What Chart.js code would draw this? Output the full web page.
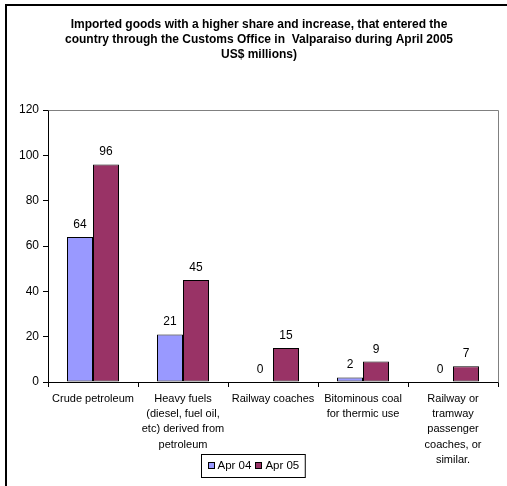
<!DOCTYPE html>
<html>
<head>
<meta charset="utf-8">
<script src="https://cdn.jsdelivr.net/npm/chart.js@4"></script>
<style>
  html, body { margin: 0; padding: 0; background: #fff; overflow: hidden; }
  #wrap { position: absolute; left: 0; top: 0; width: 507px; height: 486px; }
</style>
</head>
<body>
<div id="wrap"><canvas id="chart"></canvas></div>
<script>
// Imports through Valparaiso customs, US$ millions
const titleLines = [
  'Imported goods with a higher share and increase, that entered the',
  'country through the Customs Office in  Valparaiso during April 2005',
  'US$ millions)'
];
const categories = [
  'Crude petroleum',
  ['Heavy fuels', '(diesel, fuel oil,', 'etc) derived from', 'petroleum'],
  'Railway coaches',
  ['Bitominous coal', 'for thermic use'],
  ['Railway or', 'tramway', 'passenger', 'coaches, or', 'similar.']
];
const seriesNames = ['Apr 04', 'Apr 05'];
const apr04 = [64, 21, 0, 2, 0];
const apr05 = [96, 45, 15, 9, 7];
const yTicks = [0, 20, 40, 60, 80, 100, 120];

const FONT = "'Liberation Sans', Arial, sans-serif";
const COLORS = ['#9999FF', '#993366'];

const decorations = {
  id: 'decorations',
  afterLayout(chart) {
    // centre the title over the whole frame, which runs past the right edge
    chart.titleBlock.left = 0;
    chart.titleBlock.right = 518;
  },
  beforeDraw(chart) {
    const ctx = chart.ctx;
    ctx.save();
    ctx.fillStyle = '#fff';
    ctx.fillRect(0, 0, chart.width, chart.height);
    // outer chart frame (left and top edges)
    ctx.strokeStyle = '#000';
    ctx.lineWidth = 2;
    ctx.beginPath();
    ctx.moveTo(6, chart.height);
    ctx.lineTo(6, 5);
    ctx.lineTo(chart.width, 5);
    ctx.stroke();
    ctx.restore();
  },
  afterDatasetsDraw(chart) {
    const ctx = chart.ctx;
    const area = chart.chartArea;
    ctx.save();
    // plot area border, top and right
    ctx.strokeStyle = '#808080';
    ctx.lineWidth = 1;
    ctx.beginPath();
    ctx.moveTo(Math.round(area.left) + 0.5, Math.round(area.top) + 0.5);
    ctx.lineTo(Math.round(area.right) + 0.5, Math.round(area.top) + 0.5);
    ctx.lineTo(Math.round(area.right) + 0.5, Math.round(area.bottom) + 0.5);
    ctx.stroke();

    // value labels above each bar
    ctx.fillStyle = '#000';
    ctx.font = '12px ' + FONT;
    ctx.textAlign = 'center';
    ctx.textBaseline = 'alphabetic';
    chart.data.datasets.forEach((ds, i) => {
      const meta = chart.getDatasetMeta(i);
      meta.data.forEach((bar, j) => {
        ctx.fillText(String(ds.data[j]), bar.x, bar.y - 9);
      });
    });

    // legend box
    ctx.font = '11.5px ' + FONT;
    const sq = 7, gapSq = 3, gapItem = 4, padX = 6;
    const widths = chart.data.datasets.map(d => ctx.measureText(d.label).width);
    let total = padX * 2;
    widths.forEach((w, i) => { total += sq + gapSq + w + (i ? gapItem : 0); });
    const cx = 252.5, cy = 465.5, h = 23;
    const left = Math.round(cx - total / 2) + 0.5;
    const top = Math.round(cy - h / 2) + 0.5;
    ctx.fillStyle = '#fff';
    ctx.fillRect(left, top, total, h);
    ctx.strokeStyle = '#000';
    ctx.strokeRect(left, top, total, h);
    let x = left + padX;
    ctx.textAlign = 'left';
    ctx.textBaseline = 'middle';
    chart.data.datasets.forEach((d, i) => {
      if (i) x += gapItem;
      ctx.fillStyle = d.backgroundColor;
      ctx.fillRect(Math.round(x), Math.round(cy - sq / 2), sq, sq);
      ctx.strokeStyle = '#000';
      ctx.strokeRect(Math.round(x) + 0.5, Math.round(cy - sq / 2) + 0.5, sq - 1, sq - 1);
      x += sq + gapSq;
      ctx.fillStyle = '#000';
      ctx.fillText(d.label, x, cy + 0.5);
      x += widths[i];
    });
    ctx.restore();
  }
};

new Chart(document.getElementById('chart'), {
  type: 'bar',
  data: {
    labels: categories,
    datasets: [
      { label: seriesNames[0], data: apr04, backgroundColor: COLORS[0], borderColor: '#000', borderWidth: 1, borderSkipped: false },
      { label: seriesNames[1], data: apr05, backgroundColor: COLORS[1], borderColor: '#000', borderWidth: 1, borderSkipped: false }
    ]
  },
  options: {
    responsive: true,
    maintainAspectRatio: false,
    animation: false,
    events: [],
    categoryPercentage: 52 / 90,
    barPercentage: 1,
    layout: { padding: { left: 0, right: 9, top: 0, bottom: 0 } },
    plugins: {
      legend: { display: false },
      tooltip: { enabled: false },
      title: {
        display: true,
        text: titleLines,
        color: '#000',
        font: { family: FONT, size: 12, weight: 'bold', lineHeight: 1.25 },
        padding: { top: 17, bottom: 48 }
      }
    },
    scales: {
      x: {
        grid: { offset: true, drawOnChartArea: false, drawTicks: true, tickLength: 5, tickColor: '#000', color: '#000' },
        border: { display: true, color: '#000', width: 1 },
        ticks: { color: '#000', padding: 4, maxRotation: 0, autoSkip: false,
                 font: { family: FONT, size: 11, lineHeight: 1.39 } },
        afterFit(scale) { scale.height = 104; }
      },
      y: {
        min: yTicks[0],
        max: yTicks[yTicks.length - 1],
        afterBuildTicks(scale) { scale.ticks = yTicks.map(v => ({ value: v })); },
        grid: { drawOnChartArea: false, drawTicks: true, tickLength: 5, tickColor: '#000' },
        border: { display: true, color: '#000', width: 1 },
        ticks: { color: '#000', padding: 4, font: { family: FONT, size: 12 } },
        afterFit(scale) { scale.width = 48; }
      }
    }
  },
  plugins: [decorations]
});
</script>
</body>
</html>
